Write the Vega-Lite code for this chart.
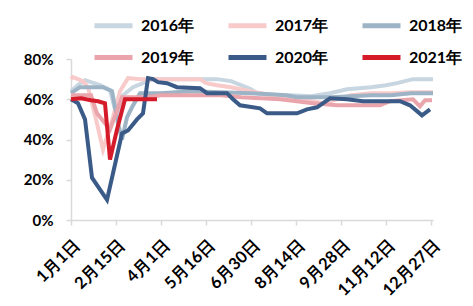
{
  "$schema": "https://vega.github.io/schema/vega-lite/v6.json",
  "autosize": "none",
  "width": 362,
  "height": 161,
  "padding": {"left": 71, "top": 59, "right": 40, "bottom": 86},
  "background": "white",
  "config": {"view": {"stroke": null}, "font": "Lato"},
  "datasets": {
    "d": [
      {"s": "2016年", "d": 0, "v": 64}, {"s": "2016年", "d": 7, "v": 67}, {"s": "2016年", "d": 14, "v": 69.5}, {"s": "2016年", "d": 29, "v": 67}, {"s": "2016年", "d": 39, "v": 64.5}, {"s": "2016年", "d": 44, "v": 55}, {"s": "2016年", "d": 48, "v": 50}, {"s": "2016年", "d": 52, "v": 62}, {"s": "2016年", "d": 62, "v": 66}, {"s": "2016年", "d": 72, "v": 68}, {"s": "2016年", "d": 82, "v": 70}, {"s": "2016年", "d": 100, "v": 70}, {"s": "2016年", "d": 120, "v": 70}, {"s": "2016年", "d": 146, "v": 70}, {"s": "2016年", "d": 160, "v": 69}, {"s": "2016年", "d": 170, "v": 67}, {"s": "2016年", "d": 180, "v": 65}, {"s": "2016年", "d": 186, "v": 63}, {"s": "2016年", "d": 200, "v": 62}, {"s": "2016年", "d": 220, "v": 62}, {"s": "2016年", "d": 240, "v": 61.5}, {"s": "2016年", "d": 259, "v": 63}, {"s": "2016年", "d": 276, "v": 65}, {"s": "2016年", "d": 300, "v": 66}, {"s": "2016年", "d": 315, "v": 67}, {"s": "2016年", "d": 326, "v": 68}, {"s": "2016年", "d": 342, "v": 70}, {"s": "2016年", "d": 362, "v": 70},
      {"s": "2017年", "d": 0, "v": 70}, {"s": "2017年", "d": 2, "v": 71}, {"s": "2017年", "d": 12, "v": 69}, {"s": "2017年", "d": 17, "v": 66}, {"s": "2017年", "d": 25, "v": 50}, {"s": "2017年", "d": 32, "v": 35}, {"s": "2017年", "d": 42, "v": 51}, {"s": "2017年", "d": 49, "v": 64}, {"s": "2017年", "d": 57, "v": 70.5}, {"s": "2017年", "d": 70, "v": 70}, {"s": "2017年", "d": 100, "v": 70}, {"s": "2017年", "d": 129, "v": 70}, {"s": "2017年", "d": 135, "v": 68}, {"s": "2017年", "d": 146, "v": 67}, {"s": "2017年", "d": 160, "v": 66}, {"s": "2017年", "d": 179, "v": 64}, {"s": "2017年", "d": 200, "v": 62}, {"s": "2017年", "d": 212, "v": 61}, {"s": "2017年", "d": 230, "v": 59.5}, {"s": "2017年", "d": 242, "v": 59}, {"s": "2017年", "d": 252, "v": 58}, {"s": "2017年", "d": 266, "v": 60}, {"s": "2017年", "d": 280, "v": 62}, {"s": "2017年", "d": 300, "v": 63}, {"s": "2017年", "d": 320, "v": 63}, {"s": "2017年", "d": 340, "v": 63.5}, {"s": "2017年", "d": 362, "v": 63.5},
      {"s": "2018年", "d": 0, "v": 63}, {"s": "2018年", "d": 9, "v": 66}, {"s": "2018年", "d": 32, "v": 66}, {"s": "2018年", "d": 41, "v": 64}, {"s": "2018年", "d": 47, "v": 48}, {"s": "2018年", "d": 51, "v": 40}, {"s": "2018年", "d": 56, "v": 51}, {"s": "2018年", "d": 61, "v": 56}, {"s": "2018年", "d": 69, "v": 63}, {"s": "2018年", "d": 90, "v": 63}, {"s": "2018年", "d": 120, "v": 64}, {"s": "2018年", "d": 150, "v": 63.5}, {"s": "2018年", "d": 180, "v": 63}, {"s": "2018年", "d": 200, "v": 62.5}, {"s": "2018年", "d": 215, "v": 62}, {"s": "2018年", "d": 226, "v": 61}, {"s": "2018年", "d": 240, "v": 61}, {"s": "2018年", "d": 260, "v": 61}, {"s": "2018年", "d": 280, "v": 61.5}, {"s": "2018年", "d": 300, "v": 62}, {"s": "2018年", "d": 320, "v": 62}, {"s": "2018年", "d": 340, "v": 63}, {"s": "2018年", "d": 362, "v": 63},
      {"s": "2019年", "d": 0, "v": 62}, {"s": "2019年", "d": 20, "v": 62}, {"s": "2019年", "d": 26, "v": 53}, {"s": "2019年", "d": 39, "v": 45}, {"s": "2019年", "d": 51, "v": 61}, {"s": "2019年", "d": 76, "v": 61}, {"s": "2019年", "d": 90, "v": 62}, {"s": "2019年", "d": 130, "v": 62}, {"s": "2019年", "d": 150, "v": 62}, {"s": "2019年", "d": 170, "v": 61}, {"s": "2019年", "d": 190, "v": 60.5}, {"s": "2019年", "d": 209, "v": 60}, {"s": "2019年", "d": 242, "v": 58}, {"s": "2019年", "d": 266, "v": 57}, {"s": "2019年", "d": 309, "v": 57}, {"s": "2019年", "d": 319, "v": 59}, {"s": "2019年", "d": 342, "v": 60}, {"s": "2019年", "d": 349, "v": 56.5}, {"s": "2019年", "d": 354, "v": 59.5}, {"s": "2019年", "d": 361, "v": 59.5},
      {"s": "2020年", "d": 0, "v": 60}, {"s": "2020年", "d": 7, "v": 58}, {"s": "2020年", "d": 14, "v": 50}, {"s": "2020年", "d": 21, "v": 21}, {"s": "2020年", "d": 36, "v": 10}, {"s": "2020年", "d": 51, "v": 43}, {"s": "2020年", "d": 57, "v": 44.5}, {"s": "2020年", "d": 66, "v": 50}, {"s": "2020年", "d": 72, "v": 53}, {"s": "2020年", "d": 77, "v": 70.5}, {"s": "2020年", "d": 82, "v": 70}, {"s": "2020年", "d": 87, "v": 68.5}, {"s": "2020年", "d": 96, "v": 68}, {"s": "2020年", "d": 106, "v": 66}, {"s": "2020年", "d": 129, "v": 65.5}, {"s": "2020年", "d": 136, "v": 63}, {"s": "2020年", "d": 156, "v": 63}, {"s": "2020年", "d": 162, "v": 60}, {"s": "2020年", "d": 169, "v": 57}, {"s": "2020年", "d": 189, "v": 55.5}, {"s": "2020年", "d": 196, "v": 53}, {"s": "2020年", "d": 226, "v": 53}, {"s": "2020年", "d": 236, "v": 55}, {"s": "2020年", "d": 246, "v": 56}, {"s": "2020年", "d": 259, "v": 60.5}, {"s": "2020年", "d": 276, "v": 60}, {"s": "2020年", "d": 292, "v": 59}, {"s": "2020年", "d": 329, "v": 59}, {"s": "2020年", "d": 339, "v": 57}, {"s": "2020年", "d": 351, "v": 52}, {"s": "2020年", "d": 359, "v": 55},
      {"s": "2021年", "d": 0, "v": 60}, {"s": "2021年", "d": 10, "v": 60.5}, {"s": "2021年", "d": 20, "v": 59.5}, {"s": "2021年", "d": 27, "v": 59}, {"s": "2021年", "d": 34, "v": 58}, {"s": "2021年", "d": 39, "v": 30}, {"s": "2021年", "d": 46, "v": 45}, {"s": "2021年", "d": 54, "v": 60}, {"s": "2021年", "d": 63, "v": 60}, {"s": "2021年", "d": 70, "v": 60}, {"s": "2021年", "d": 77, "v": 60}, {"s": "2021年", "d": 86, "v": 60}
    ]
  },
  "data": {"name": "d"},
  "mark": {"type": "line", "strokeWidth": 4, "strokeJoin": "miter", "strokeCap": "butt"},
  "encoding": {
    "x": {
      "field": "d", "type": "quantitative",
      "scale": {"domain": [0, 362], "nice": false, "zero": false},
      "axis": {
        "title": null, "grid": false,
        "values": [0, 45, 90, 135, 180, 225, 270, 315, 360],
        "labelExpr": "['1月1日','2月15日','4月1日','5月16日','6月30日','8月14日','9月28日','11月12日','12月27日'][round(datum.value/45)]",
        "labelAngle": -45, "labelAlign": "right", "labelBaseline": "top",
        "labelFont": "Lato", "labelFontSize": 16.5, "labelFontWeight": "bold", "labelColor": "#000000",
        "domainColor": "#D9D9D9", "domainWidth": 1.5, "tickColor": "#D9D9D9", "tickSize": 5, "tickWidth": 1.5,
        "labelPadding": 11, "labelFlush": false, "labelOverlap": false
      }
    },
    "y": {
      "field": "v", "type": "quantitative",
      "scale": {"domain": [0, 80], "nice": false},
      "axis": {
        "title": null, "grid": false,
        "values": [0, 20, 40, 60, 80],
        "labelExpr": "datum.value + '%'",
        "labelFont": "Lato", "labelFontSize": 15, "labelFontWeight": "bold", "labelColor": "#000000",
        "domainColor": "#D9D9D9", "domainWidth": 1.5, "tickColor": "#D9D9D9", "tickSize": 5, "tickWidth": 1.5,
        "labelPadding": 13
      }
    },
    "color": {
      "field": "s", "type": "nominal",
      "scale": {
        "domain": ["2016年", "2017年", "2018年", "2019年", "2020年", "2021年"],
        "range": ["#C8D6E1", "#F9CACA", "#9DB3C6", "#EAA4AB", "#3A5A87", "#D51A2A"]
      },
      "legend": {
        "title": null, "orient": "none", "legendX": 21, "legendY": -55,
        "direction": "horizontal", "columns": 3, "padding": 0,
        "symbolType": "stroke", "symbolSize": 1444, "symbolStrokeWidth": 5,
        "labelFont": "Lato", "labelFontSize": 16, "labelFontWeight": "bold", "labelColor": "#000000",
        "labelOffset": 6, "columnPadding": 23, "rowPadding": -19, "labelLimit": 200
      }
    }
  }
}
